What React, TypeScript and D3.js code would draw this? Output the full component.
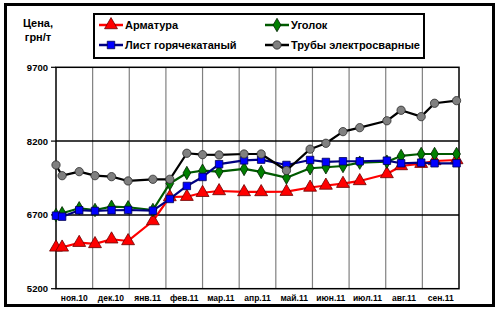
import React from "react";
import * as d3 from "d3";

const dates = [
  "2010-11-01", "2010-11-06", "2010-11-20", "2010-12-03", "2010-12-17", "2010-12-31",
  "2011-01-21", "2011-02-04", "2011-02-17", "2011-03-01", "2011-03-15", "2011-04-05",
  "2011-04-19", "2011-05-10", "2011-05-30", "2011-06-12", "2011-06-26", "2011-07-10",
  "2011-08-02", "2011-08-14", "2011-08-31", "2011-09-11", "2011-09-29",
];

const armatura = [6040, 6040, 6135, 6110, 6205, 6170, 6576, 7064, 7070, 7150, 7186, 7166, 7166, 7172, 7257, 7298, 7335, 7390, 7532, 7694, 7741, 7796, 7816];
const ugolok = [6698, 6733, 6835, 6800, 6867, 6855, 6800, 7339, 7552, 7599, 7579, 7634, 7573, 7457, 7648, 7668, 7694, 7762, 7782, 7898, 7938, 7938, 7938];
const list = [6684, 6664, 6794, 6780, 6794, 6800, 6786, 7024, 7288, 7471, 7731, 7808, 7823, 7715, 7816, 7776, 7790, 7790, 7802, 7749, 7762, 7749, 7749];
const truby = [7715, 7497, 7579, 7497, 7477, 7390, 7424, 7424, 7953, 7924, 7918, 7938, 7938, 7603, 8036, 8156, 8392, 8473, 8613, 8827, 8697, 8969, 9022];

const monthLabels = ["ноя.10", "дек.10", "янв.11", "фев.11", "мар.11", "апр.11", "май.11", "июн.11", "июл.11", "авг.11", "сен.11"];
const yTicks = [5200, 6700, 8200, 9700];

const seriesNames = ["Арматура", "Уголок", "Лист горячекатаный", "Трубы электросварные"];

const FONT = "'Liberation Sans', Arial, sans-serif";

function monthPos(s: string): number {
  const [y, m, d] = s.split("-").map(Number);
  const idx = (y - 2010) * 12 + (m - 1) - 10;
  const dim = new Date(y, m, 0).getDate();
  return idx + (d - 1) / dim;
}

export default function App() {
  const x = d3.scaleLinear().domain([0, monthLabels.length]).range([56, 459]);
  const y = d3.scaleLinear().domain([5200, 9700]).range([288.7, 67.3]);
  const xs = dates.map(monthPos);

  const series = [
    { name: seriesNames[0], values: armatura, line: "#FF0000", fill: "#FF0000", stroke: "#6a0000", sym: d3.symbolTriangle, size: 72 },
    { name: seriesNames[1], values: ugolok, line: "#005a00", fill: "#008000", stroke: "#002000", sym: d3.symbolDiamond, size: 52 },
    { name: seriesNames[2], values: list, line: "#000080", fill: "#0000FF", stroke: "#000050", sym: d3.symbolSquare, size: 56 },
    { name: seriesNames[3], values: truby, line: "#000000", fill: "#808080", stroke: "#2a2a2a", sym: d3.symbolCircle, size: 54 },
  ];
  const drawOrder = [0, 1, 2, 3];

  const lineGen = (vals: number[]) =>
    d3.line<number>().x((_, i) => x(xs[i])).y((v) => y(v))(vals) || "";

  const legendPos = [
    { lx: 99, ty: 25 },
    { lx: 265, ty: 25 },
    { lx: 99, ty: 45 },
    { lx: 265, ty: 45 },
  ];

  return (
    <svg width={500} height={309} style={{ position: "absolute", left: 0, top: 0 }} fontFamily={FONT}>
      <rect x={0} y={0} width={500} height={309} fill="#fff" />
      <rect x={5.5} y={4.5} width={488} height={301} fill="#fff" stroke="#000" strokeWidth={3} />

      {/* y title */}
      <text x={38} y={27} textAnchor="middle" fontSize={11} fontWeight="bold">Цена,</text>
      <text x={38} y={40.5} textAnchor="middle" fontSize={11} fontWeight="bold">грн/т</text>

      {/* legend */}
      <rect x={94} y={14} width={330} height={44} fill="#fff" stroke="#000" strokeWidth={2} />
      {series.map((s, i) => {
        const p = legendPos[i];
        return (
          <g key={s.name}>
            <line x1={p.lx} x2={p.lx + 24} y1={p.ty} y2={p.ty} stroke={s.line} strokeWidth={2.5} />
            <path d={d3.symbol().type(s.sym).size(s.size)() || ""} transform={`translate(${p.lx + 12},${p.ty})`} fill={s.fill} stroke={s.stroke} strokeWidth={0.8} />
            <text x={p.lx + 26} y={p.ty + 4} fontSize={11} fontWeight="bold">{s.name}</text>
          </g>
        );
      })}

      {/* vertical gridlines */}
      {d3.range(1, monthLabels.length).map((i) => (
        <line key={i} x1={x(i)} x2={x(i)} y1={y(9700)} y2={y(5200)} stroke="#808080" strokeWidth={1.2} />
      ))}
      {/* horizontal gridlines */}
      {yTicks.slice(1, -1).map((t) => (
        <line key={t} x1={x(0)} x2={x(monthLabels.length)} y1={y(t)} y2={y(t)} stroke="#000" strokeWidth={1.5} />
      ))}
      {/* plot frame */}
      <rect x={x(0)} y={y(9700)} width={x(monthLabels.length) - x(0)} height={y(5200) - y(9700)} fill="none" stroke="#000" strokeWidth={1.5} />

      {/* y ticks */}
      {yTicks.map((t) => (
        <g key={t}>
          <line x1={51} x2={x(0)} y1={y(t)} y2={y(t)} stroke="#000" strokeWidth={1.2} />
          <text x={48} y={y(t) + 3.4} textAnchor="end" fontSize={9.5} fontWeight="bold">{t}</text>
        </g>
      ))}

      {/* month labels */}
      {monthLabels.map((m, i) => (
        <text key={m} x={x(i + 0.5)} y={300.5} textAnchor="middle" fontSize={8.5} fontWeight="bold">{m}</text>
      ))}

      {/* series */}
      {drawOrder.map((k) => {
        const s = series[k];
        const symPath = d3.symbol().type(s.sym).size(s.size)() || "";
        return (
          <g key={s.name}>
            <path d={lineGen(s.values)} fill="none" stroke={s.line} strokeWidth={2.2} strokeLinejoin="round" />
            {s.values.map((v, i) => (
              <path key={i} d={symPath} transform={`translate(${x(xs[i])},${y(v)})`} fill={s.fill} stroke={s.stroke} strokeWidth={0.8} />
            ))}
          </g>
        );
      })}
    </svg>
  );
}
